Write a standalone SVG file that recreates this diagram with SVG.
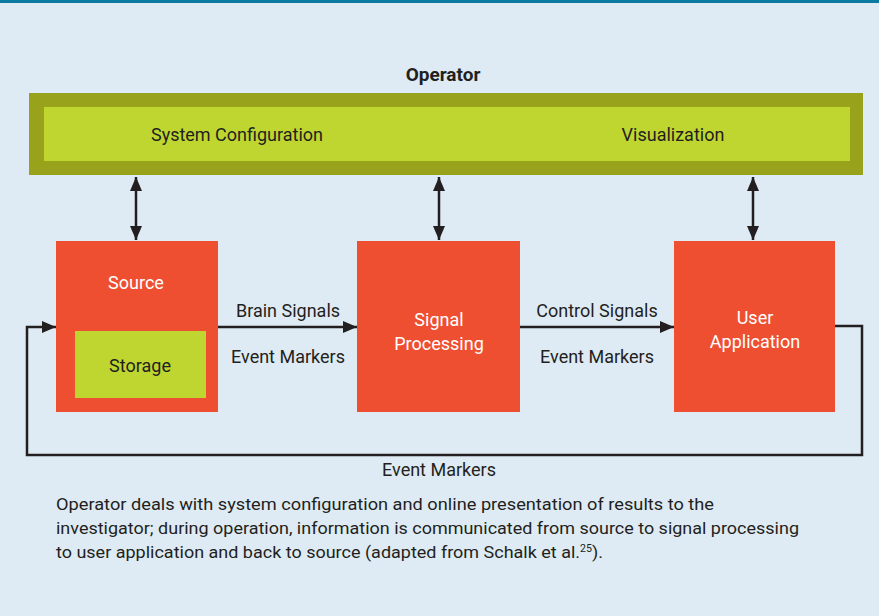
<svg xmlns="http://www.w3.org/2000/svg" width="879" height="616" viewBox="0 0 879 616">
<defs>
<style>
text{font-family:Roboto,"Liberation Sans",sans-serif;fill:#231f20;font-size:18px}
.c{text-anchor:middle}
.w{fill:#ffffff}
.cap{font-size:17px}
.ln{stroke:#231f20;stroke-width:2.5;fill:none}
.red{fill:#ef4f31}
.lime{fill:#bed62f}
</style>
<marker id="ah" viewBox="0 0 14 12" refX="14" refY="6" markerWidth="14" markerHeight="12" markerUnits="userSpaceOnUse" orient="auto-start-reverse">
<path d="M0,0 L14,6 L0,12 Z" fill="#231f20"/>
</marker>
</defs>
<rect x="0" y="0" width="879" height="616" fill="#deebf4"/>
<rect x="0" y="0" width="879" height="3" fill="#0a7aa3"/>
<text class="c" x="443" y="81" style="font-weight:bold;font-size:19px">Operator</text>
<g id="operator">
<rect x="29" y="93" width="834" height="82" fill="#98a21a"/>
<rect x="44" y="107" width="806" height="54" class="lime"/>
<text class="c" x="237" y="141">System Configuration</text>
<text class="c" x="673" y="141">Visualization</text>
</g>
<g id="source">
<rect x="56" y="241" width="162" height="171" class="red"/>
<text class="c w" x="136" y="289">Source</text>
</g>
<g id="storage">
<rect x="75" y="331" width="131" height="67" class="lime"/>
<text class="c" x="140" y="372">Storage</text>
</g>
<g id="signal">
<rect x="357" y="241" width="163" height="171" class="red"/>
<text class="c w" x="439" y="326">Signal</text>
<text class="c w" x="439" y="350">Processing</text>
</g>
<g id="user">
<rect x="674" y="241" width="161" height="171" class="red"/>
<text class="c w" x="755" y="324">User</text>
<text class="c w" x="755" y="348">Application</text>
</g>
<g id="connectors">
<line class="ln" x1="136" y1="177" x2="136" y2="240" marker-start="url(#ah)" marker-end="url(#ah)"/>
<line class="ln" x1="439" y1="177" x2="439" y2="240" marker-start="url(#ah)" marker-end="url(#ah)"/>
<line class="ln" x1="753" y1="177" x2="753" y2="240" marker-start="url(#ah)" marker-end="url(#ah)"/>
<line class="ln" x1="218" y1="327" x2="357" y2="327" marker-end="url(#ah)"/>
<line class="ln" x1="520" y1="327" x2="674" y2="327" marker-end="url(#ah)"/>
<polyline class="ln" points="835,326 862,326 862,455 27,455 27,327 56,327" marker-end="url(#ah)"/>
<text class="c" x="288" y="317">Brain Signals</text>
<text class="c" x="288" y="363">Event Markers</text>
<text class="c" x="597" y="317">Control Signals</text>
<text class="c" x="597" y="363">Event Markers</text>
<text class="c" x="439" y="476">Event Markers</text>
</g>
<g id="caption">
<text class="cap" x="56" y="510" textLength="658" lengthAdjust="spacingAndGlyphs">Operator deals with system configuration and online presentation of results to the</text>
<text class="cap" x="56" y="534" textLength="743" lengthAdjust="spacingAndGlyphs">investigator; during operation, information is communicated from source to signal processing</text>
<text class="cap" x="56" y="558" textLength="547" lengthAdjust="spacingAndGlyphs">to user application and back to source (adapted from Schalk et al.<tspan dy="-6" style="font-size:10px">25</tspan><tspan dy="6">).</tspan></text>
</g>
</svg>
